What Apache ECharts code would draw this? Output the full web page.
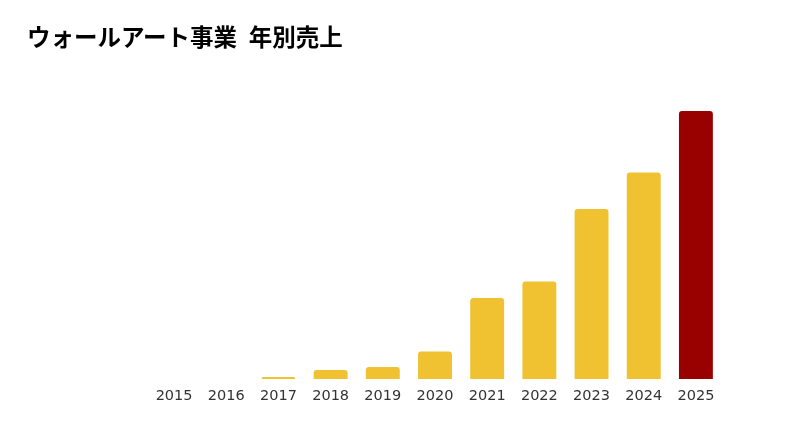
<!DOCTYPE html>
<html><head><meta charset="utf-8">
<script src="https://cdn.jsdelivr.net/npm/echarts@6/dist/echarts.min.js"></script>
<style>html,body{margin:0;padding:0;background:#fff}#c{width:803px;height:431px}</style>
</head><body><div id="c"></div>
<script>
const titleText = 'ウォールアート事業\u2002年別売上';
const categories = ['2015','2016','2017','2018','2019','2020','2021','2022','2023','2024','2025'];
const sales = [0, 0, 2, 9, 12, 27.5, 81, 97.5, 170, 206.5, 268];
const highlightIndex = 10;

const chart = echarts.init(document.getElementById('c'));
chart.setOption({
  animation: false,
  title: {
    text: titleText, left: 22, top: 20,
    textStyle: { fontFamily: '"Noto Sans CJK JP", sans-serif', fontWeight: 'bold', fontSize: 23.5, color: '#000' }
  },
  grid: { left: 148, right: 81, top: 79, bottom: 52 },
  xAxis: {
    type: 'category', data: categories,
    axisLine: { show: false }, axisTick: { show: false },
    axisLabel: { fontFamily: '"DejaVu Sans", Verdana, sans-serif', fontSize: 14.5, color: '#333', margin: 10 }
  },
  yAxis: { type: 'value', min: 0, max: 300, show: false, splitLine: { show: false } },
  series: [{
    type: 'bar', barCategoryGap: '35%',
    data: sales.map((v, i) => ({ value: v, itemStyle: { color: i === highlightIndex ? '#990000' : '#F0C232' } })),
    itemStyle: { borderRadius: [3, 3, 0, 0] }
  }]
});
</script></body></html>
